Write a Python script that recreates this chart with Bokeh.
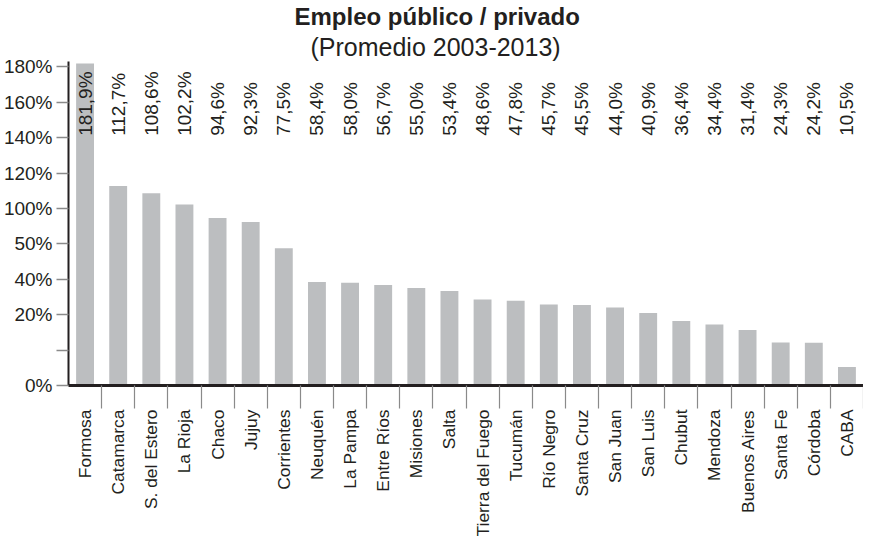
import math
from bokeh.plotting import figure
from bokeh.models import ColumnDataSource, Range1d, LinearAxis, FixedTicker, Title
from bokeh.core.properties import value
from bokeh.embed import file_html
from bokeh.resources import INLINE

provinces = ["Formosa", "Catamarca", "S. del Estero", "La Rioja", "Chaco", "Jujuy",
             "Corrientes", "Neuquén", "La Pampa", "Entre Ríos", "Misiones", "Salta",
             "Tierra del Fuego", "Tucumán", "Río Negro", "Santa Cruz", "San Juan",
             "San Luis", "Chubut", "Mendoza", "Buenos Aires", "Santa Fe", "Córdoba", "CABA"]
ratios = [181.9, 112.7, 108.6, 102.2, 94.6, 92.3, 77.5, 58.4, 58.0, 56.7, 55.0, 53.4,
          48.6, 47.8, 45.7, 45.5, 44.0, 40.9, 36.4, 34.4, 31.4, 24.3, 24.2, 10.5]
y_tick_values = [0, 20, 40, 60, 80, 100, 120, 140, 160, 180]
y_tick_labels = ["0%", "", "20%", "40%", "50%", "100%", "120%", "140%", "160%", "180%"]
title_text = "Empleo público / privado"
subtitle_text = "(Promedio 2003-2013)"

TXT = "#231f20"
BAR = "#bcbec0"
TICK = "#8a8a8a"
SANS = "Liberation Sans"

n = len(provinces)
centers = [i + 0.5 for i in range(n)]
bounds = list(range(1, n + 1))
value_labels = [f"{v:.1f}".replace(".", ",") + "%" for v in ratios]
src = ColumnDataSource(dict(x=centers, ratio=ratios, label=value_labels))

p = figure(width=863, height=539, x_range=Range1d(0, n), y_range=Range1d(0, 183),
           output_backend="svg", toolbar_location=None, title=None,
           x_axis_location=None, y_axis_location=None,
           min_border_left=65, min_border_right=0, min_border_top=55, min_border_bottom=0)
p.outline_line_color = None
p.xgrid.visible = False
p.ygrid.visible = False

p.vbar(x="x", top="ratio", width=0.54, source=src, fill_color=BAR, line_color=None)
p.text(x="x", y=141, text="label", source=src, angle=math.pi / 2,
       text_align="left", text_baseline="middle", text_color=TXT,
       text_font=value(SANS), text_font_size="19px")

# y axis
yax = LinearAxis(ticker=FixedTicker(ticks=y_tick_values),
                 major_label_overrides={t: l for t, l in zip(y_tick_values, y_tick_labels)})
yax.axis_line_color = TXT
yax.axis_line_width = 2
yax.major_tick_out = 12
yax.major_tick_in = 0
yax.major_tick_line_color = TICK
yax.major_tick_line_width = 1.5
yax.minor_tick_line_color = None
yax.major_label_text_font = SANS
yax.major_label_text_font_size = "19px"
yax.major_label_text_color = TXT
yax.major_label_standoff = 4
yax.axis_label_standoff = 0
p.add_layout(yax, "left")

# x axis: labels at category centres, separator ticks at boundaries
xax = LinearAxis(ticker=FixedTicker(ticks=centers, minor_ticks=bounds),
                 major_label_overrides={c: name for c, name in zip(centers, provinces)})
xax.axis_line_color = TXT
xax.axis_line_width = 3
xax.major_tick_out = 21
xax.major_tick_in = 0
xax.major_tick_line_color = None
xax.minor_tick_out = 23
xax.minor_tick_in = 0
xax.minor_tick_line_color = TICK
xax.minor_tick_line_width = 1.2
xax.major_label_orientation = math.pi / 2
xax.major_label_standoff = 1
xax.axis_label_standoff = 0
xax.major_label_text_font = SANS
xax.major_label_text_font_size = "17.4px"
xax.major_label_text_color = TXT
p.add_layout(xax, "below")

sub = Title(text=subtitle_text, align="left", offset=242, text_font=SANS,
            text_font_size="25px", text_font_style="normal", text_color=TXT, standoff=2)
main = Title(text=title_text, align="left", offset=226, text_font=SANS,
             text_font_size="24px", text_font_style="bold", text_color=TXT, standoff=0)
p.add_layout(sub, "above")
p.add_layout(main, "above")

open("out.html", "w").write(file_html(p, INLINE))
